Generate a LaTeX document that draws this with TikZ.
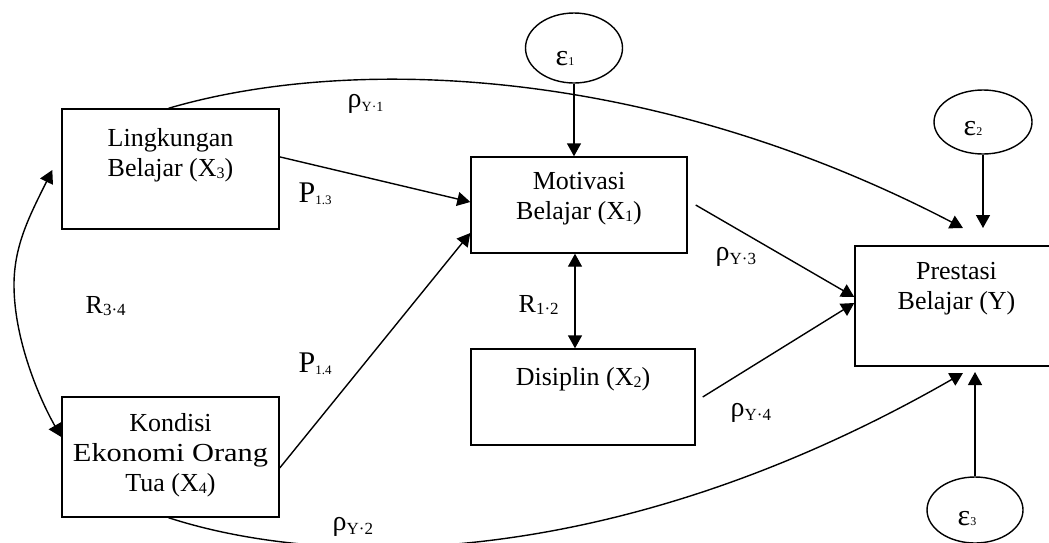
\documentclass[tikz,border=0pt]{standalone}
\usepackage{fontspec}
\setmainfont{Liberation Serif}
\usetikzlibrary{arrows.meta,shapes.geometric,calc}

% lowered index in a smaller size
\newcommand{\lowidx}[3][16]{\raisebox{-#2}{\fontsize{#1}{#1}\selectfont #3}}
% path coefficient rho with its index
\newcommand{\rholab}[2][17]{{\fontsize{28}{28}\selectfont ρ}\lowidx[#1]{4pt}{#2}}
% residual epsilon with its index
\newcommand{\epslab}[1]{{\fontsize{30}{30}\selectfont ε}{\fontsize{12}{12}\selectfont #1}}

\begin{document}
\begin{tikzpicture}[x=1pt,y=-1pt,line width=1.4pt,
  every node/.style={font=\fontsize{26}{30}\selectfont},
  box/.style={draw,rectangle,inner sep=0pt},
  err/.style={draw,ellipse,inner sep=0pt},
  boxtext/.style={anchor=north,align=center,inner sep=0pt,
    execute at begin node={\rule{0pt}{20pt}}},
  lab/.style={anchor=base west,inner sep=0pt},
  tip/.style={-{Triangle[length=13pt,width=14pt]}},
  both/.style={{Triangle[length=13pt,width=14pt]}-{Triangle[length=13pt,width=14pt]}}]

\fill[white] (0,0) rectangle (1049,542);
\useasboundingbox (0,0) rectangle (1049,542);

% variables
\node[box,minimum width=217pt,minimum height=120pt] (x3) at (170.5,169) {};
\node[boxtext] (x3t) at (170.5,128) {Lingkungan\\Belajar (X\lowidx{2pt}{3})};
\node[box,minimum width=217pt,minimum height=120pt] (x4) at (170.5,457) {};
\node[boxtext] (x4t) at (170.5,413) {Kondisi\\\scalebox{1.17}[1]{Ekonomi Orang}\\Tua (X\lowidx{2pt}{4})};
\node[box,minimum width=216pt,minimum height=96pt] (x1) at (579,205) {};
\node[boxtext] (x1t) at (579,172) {Motivasi\\Belajar (X\lowidx{2pt}{1})};
\node[box,minimum width=224pt,minimum height=96pt] (x2) at (583,397) {};
\node[boxtext] (x2t) at (583,365) {Disiplin (X\lowidx{2pt}{2})};
\node[box,minimum width=203pt,minimum height=120pt] (y) at (956.5,306) {};
\node[boxtext] (yt) at (956.5,262) {Prestasi\\Belajar (Y)};

% residuals
\node[err,minimum width=97pt,minimum height=70pt] (e1) at (574,48) {};
\node[lab] (e1t) at (555,65) {\epslab{1}};
\node[err,minimum width=98pt,minimum height=64pt] (e2) at (983,122) {};
\node[lab] (e2t) at (963,135) {\epslab{2}};
\node[err,minimum width=96pt,minimum height=66pt] (e3) at (975,510) {};
\node[lab] (e3t) at (957,525) {\epslab{3}};

% free arrow ends
\coordinate (e2end) at (983,228);
\coordinate (e3end) at (975,372);
\coordinate (r1end) at (963,228);
\coordinate (r2end) at (963,373);

% residual arrows
\draw[tip] (e1.south) -- (e1.south |- x1.north);
\draw[tip] (e2.south) -- (e2end);
\draw[tip] (e3.north) -- (e3end);

% paths
\draw[tip] ($(x3.north east)!0.4!(x3.south east)$) -- ([yshift=3pt]x1.west);
\draw[tip] ([yshift=-11pt]x4.east) -- ([yshift=-28pt]x1.west);
\draw[tip] ([xshift=8pt]x1.east) -- ([yshift=9pt]y.west);
\draw[tip] ([xshift=7pt]x2.east) -- ([yshift=3pt]y.west);
\draw[both] ([xshift=-4pt]x1.south) -- ([xshift=-8pt]x2.north);
\draw[both] ([xshift=-9pt,yshift=-1pt]x3.west) .. controls (30,215) and (14,245) .. (14,285)
  .. controls (14,340) and (40,400) .. ([yshift=20pt]x4.west);
\draw[tip] ([xshift=-2pt]x3.north) .. controls (350,55) and (650,65) .. (r1end);
\draw[tip] ([xshift=-2pt]x4.south) .. controls (330,570) and (620,570) .. (r2end);

% coefficients
\node[lab] (ry1) at (347,107) {\rholab[14]{Y·1}};
\node[lab] (p13) at (298,202) {{\fontsize{30}{30}\selectfont P}\lowidx[13]{2pt}{1.3}};
\node[lab] (p14) at (298,372) {{\fontsize{30}{30}\selectfont P}\lowidx[13]{2pt}{1.4}};
\node[lab] (r34) at (85,313) {R\lowidx[17]{2pt}{3·4}};
\node[lab] (r12) at (518,312) {R\lowidx[17]{2pt}{1·2}};
\node[lab] (ry3) at (715,260) {\rholab{Y·3}};
\node[lab] (ry4) at (730,416) {\rholab{Y·4}};
\node[lab] (ry2) at (332,530) {\rholab{Y·2}};
\end{tikzpicture}
\end{document}
